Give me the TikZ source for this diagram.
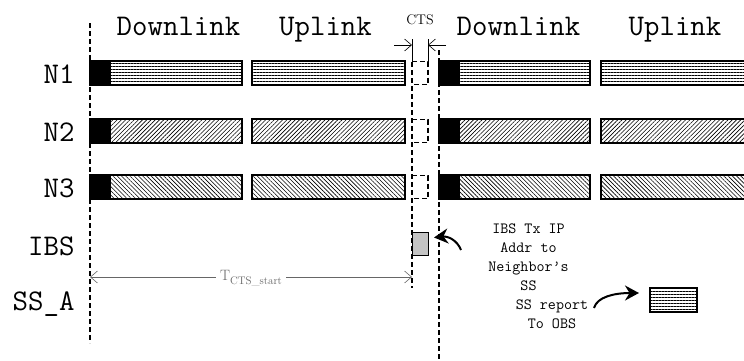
\documentclass[tikz,border=0pt]{standalone}
\usepackage{fontspec}
\usetikzlibrary{arrows.meta,patterns.meta}

\begin{document}
\begin{tikzpicture}[
	x=1pt, y=-1pt,
	every node/.style={font=\ttfamily},
	phase/.style={font=\fontsize{30}{30}\selectfont\ttfamily, anchor=base},
	rowlabel/.style={font=\fontsize{30}{30}\selectfont\ttfamily, anchor=base east},
	bar/.style={rectangle, draw, line width=1.2pt, minimum height=24pt, inner sep=0, outer sep=0, anchor=west},
	preamble/.style={bar, fill=black, minimum width=20pt},
	hlines/.style={pattern={Lines[angle=0, distance=3pt, line width=0.7pt]}},
	nelines/.style={pattern={Lines[angle=45, distance=3pt, line width=0.6pt]}},
	nwlines/.style={pattern={Lines[angle=-45, distance=3pt, line width=0.6pt]}},
	slot/.style={rectangle, minimum width=16pt, minimum height=23pt, inner sep=0, outer sep=0},
	frame/.style={line width=1.2pt, dash pattern=on 5pt off 3pt},
	dimline/.style={line width=0.6pt, {Straight Barb[length=7pt,width=12pt]}-{Straight Barb[length=7pt,width=12pt]}},
	dimarrow/.style={line width=0.6pt, -{Straight Barb[length=7pt,width=12pt]}},
	fatarrow/.style={line width=2pt, -{Stealth[length=14pt,width=15pt]}},
	note/.style={font=\fontsize{15.6}{19}\selectfont\ttfamily, align=center, inner sep=0}
	]

\path[use as bounding box, clip] (0,0) rectangle (744,360);

% Phases
\node [phase] (downlink label0) at (178.5,35) {Downlink};
\node [phase] (uplink label0) at (325.5,35) {Uplink};
\node [phase] (downlink label1) at (518.5,35) {Downlink};
\node [phase] (uplink label1) at (675,35) {Uplink};

% Row labels
\node [rowlabel] (n1) at (78,83) {N1};
\node [rowlabel] (n2) at (78,141) {N2};
\node [rowlabel] (n3) at (78,197) {N3};
\node [rowlabel] (ibs) at (78,255) {IBS};
\node [rowlabel] (ss a) at (78,310) {SS\_A};

% Frame boundaries
\coordinate (frame0 top) at (90,23);
\coordinate (frame0 bottom) at (90,343);
\coordinate (cts top) at (412,62);
\coordinate (cts bottom) at (412,288);
\coordinate (frame1 top) at (439,50);
\coordinate (frame1 bottom) at (439,362);
\draw[frame] (frame0 top) -- (frame0 bottom);
\draw[frame] (cts top) -- (cts bottom);
\draw[frame] (frame1 top) -- (frame1 bottom);

% N1
\node [bar, hlines, minimum width=152pt] (downlink1) at (90,73) {};
\node [preamble] (preamble1) at (90,73) {};
\node [bar, hlines, minimum width=153pt] (uplink1) at (252,73) {};
\node [slot] (slot1) at (420,73) {};
\node [bar, hlines, minimum width=151pt] (downlink1p) at (439,73) {};
\node [preamble] (preamble1p) at (439,73) {};
\node [bar, hlines, minimum width=160pt] (uplink1p) at (601,73) {};

% N2
\node [bar, nelines, minimum width=152pt] (downlink2) at (90,131) {};
\node [preamble] (preamble2) at (90,131) {};
\node [bar, nelines, minimum width=153pt] (uplink2) at (252,131) {};
\node [slot] (slot2) at (420,131) {};
\node [bar, nelines, minimum width=151pt] (downlink2p) at (439,131) {};
\node [preamble] (preamble2p) at (439,131) {};
\node [bar, nelines, minimum width=160pt] (uplink2p) at (601,131) {};

% N3
\node [bar, nwlines, minimum width=152pt] (downlink3) at (90,187) {};
\node [preamble] (preamble3) at (90,187) {};
\node [bar, nwlines, minimum width=153pt] (uplink3) at (252,187) {};
\node [slot] (slot3) at (420,187) {};
\node [bar, nwlines, minimum width=151pt] (downlink3p) at (439,187) {};
\node [preamble] (preamble3p) at (439,187) {};
\node [bar, nwlines, minimum width=160pt] (uplink3p) at (601,187) {};

% CTS slots
\draw[frame] (slot1.north west) -- (slot1.north east) -- (slot1.south east) -- (slot1.south west);
\draw[frame] (slot2.north west) -- (slot2.north east) -- (slot2.south east) -- (slot2.south west);
\draw[frame] (slot3.north west) -- (slot3.north east) -- (slot3.south east) -- (slot3.south west);

% CTS width
\node [font=\fontsize{14}{14}\selectfont\rmfamily] (cts label) at (420,20) {CTS};
\coordinate (cts left) at (412,39);
\coordinate (cts right) at (428,39);
\coordinate (cts arrow left) at (394,45);
\coordinate (cts arrow right) at (446,45);
\draw[line width=0.6pt] (cts left) -- (slot1.north west);
\draw[line width=0.6pt] (cts right) -- (slot1.north east);
\draw[dimarrow] (cts arrow left) -- (cts left |- cts arrow left);
\draw[dimarrow] (cts arrow right) -- (cts right |- cts arrow right);

% IBS transmission
\node [slot, draw, line width=1pt, fill=black!15, pattern={Dots[distance=2pt, radius=0.65pt]}] (ibs tx) at (420,243.5) {};
\node [note] (ibs note) at (528.5,257.7) {IBS Tx IP\\Addr to\\Neighbor’s\\SS};
\coordinate (ibs arrow start) at (461,250);
\draw[fatarrow] (ibs arrow start) .. controls (457,240) and (448,236) .. ([shift={(6pt,6pt)}]ibs tx.east);

% SS report
\node [bar, anchor=center, hlines, minimum width=47pt] (ss report) at (673.5,300) {};
\node [note] (ss note) at (552,314.7) {SS report\\To OBS};
\coordinate (ss arrow start) at (594,308);
\draw[fatarrow] (ss arrow start) .. controls (597,297) and (614,293) .. ([shift={(-11pt,7pt)}]ss report.west);

% T_CTS_start
\coordinate (t left) at (90,277);
\coordinate (t right) at (412,277);
\draw[dimline, draw=black!60] (t left) -- (t right);
\node [fill=white, text=black!60, inner xsep=4pt, inner ysep=1pt, font=\rmfamily] (t label) at (251,278) {{\fontsize{15}{15}\selectfont T}\raisebox{-4pt}{\fontsize{11}{11}\selectfont CTS\_start}};

\end{tikzpicture}
\end{document}
